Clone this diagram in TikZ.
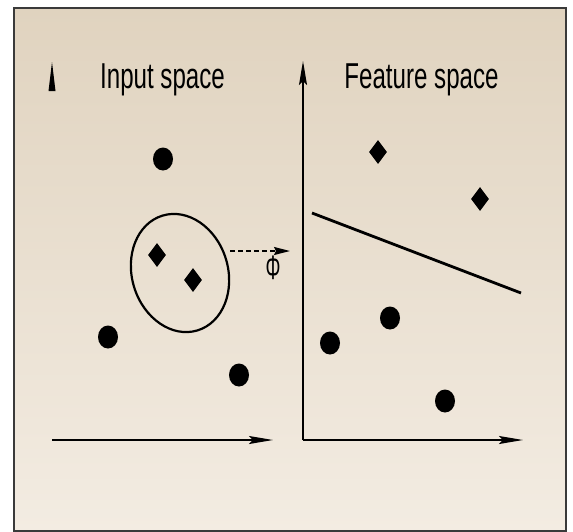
\documentclass[tikz,border=0pt]{standalone}
\usepackage{fontspec}
\setmainfont{Liberation Sans}
\usetikzlibrary{shapes.geometric,arrows.meta}
\definecolor{bgtop}{HTML}{E0D3BF}
\definecolor{bgbot}{HTML}{F3ECE2}
\definecolor{framec}{HTML}{3A3A3A}
\begin{document}
\begin{tikzpicture}[x=1pt,y=-1pt,
  dot/.style={ellipse,fill=black,minimum width=20pt,minimum height=23pt,inner sep=0pt},
  dia/.style={diamond,fill=black,minimum width=18pt,minimum height=24pt,inner sep=0pt,aspect=0.75},
  axis/.style={line width=1.8pt,-{Stealth[length=24pt,width=8pt,inset=4pt]}},
  lbl/.style={font=\fontsize{36}{42}\selectfont,xscale=0.67,inner sep=0pt,anchor=base}]
\useasboundingbox (0,0) rectangle (573,531);
\fill[white] (0,0) rectangle (573,531);
\shade[top color=bgtop,bottom color=bgbot,draw=framec,line width=1.2pt] (14,8) rectangle (566,531);
% axes
\coordinate (lo) at (52,440);
\coordinate (lx) at (273,440);
\coordinate (ro) at (303,440);
\coordinate (rx) at (523,440);
\coordinate (ry) at (303,61);
\draw[axis] (lo) -- (lx);
\draw[axis] (ro) -- (rx);
\draw[axis] (ro) -- (ry);
% stub arrowhead of the input-space vertical axis
\fill (52,62) -- (55.5,91) -- (48.5,91) -- cycle;
% labels
\node[lbl] (tin) at (162.5,88) {Input space};
\node[lbl] (tfe) at (421.5,88) {Feature space};
% input space points
\node[dot] (a1) at (163,159) {};
\node[dot] (a2) at (108,337) {};
\node[dot] (a3) at (239,375) {};
\node[dia] (d1) at (157,255) {};
\node[dia] (d2) at (193,280) {};
% ellipse
\node[draw,ellipse,line width=2.2pt,minimum width=96pt,minimum height=120pt,rotate=17] (ell) at (180,273) {};
% mapping
\coordinate (ms) at (230,251);
\coordinate (me) at (290,251);
\draw[line width=1.6pt,dash pattern=on 5pt off 3pt,-{Stealth[length=16pt,width=8pt,inset=2pt]}] (ms) -- (me);
\node[font=\fontsize{34}{38}\selectfont,xscale=0.55,inner sep=0pt] (phi) at (273,268) {Φ};
% feature space points
\node[dia] (f1) at (378,152) {};
\node[dia] (f2) at (480,199) {};
\node[dot] (g1) at (330,343) {};
\node[dot] (g2) at (390,318) {};
\node[dot] (g3) at (445,401) {};
% separating line
\coordinate (s1) at (312,213);
\coordinate (s2) at (521,293);
\draw[line width=2.8pt] (s1) -- (s2);
\end{tikzpicture}
\end{document}
